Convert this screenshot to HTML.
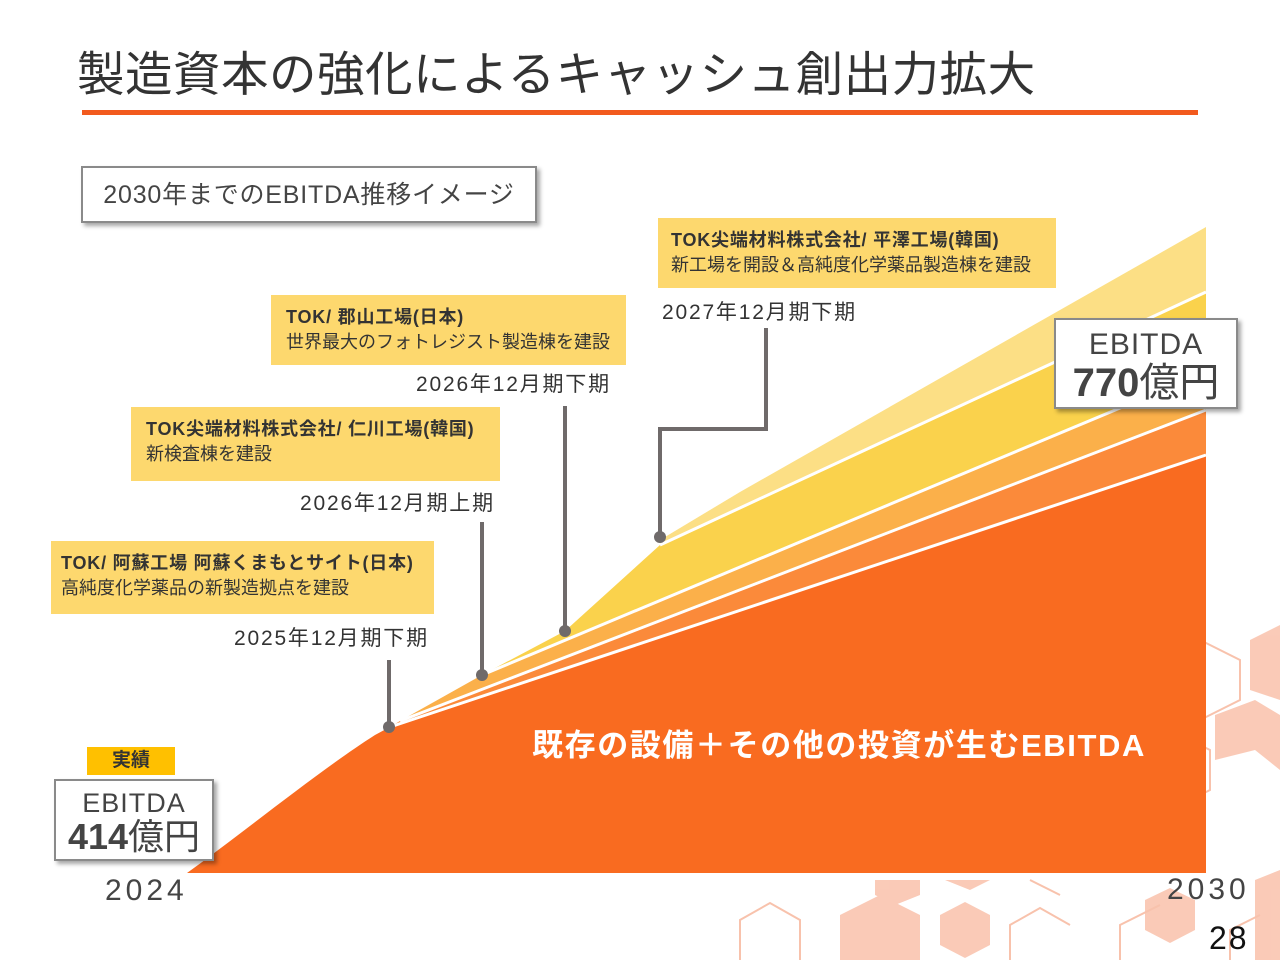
<!DOCTYPE html>
<html><head><meta charset="utf-8"><style>
body{margin:0;width:1280px;height:960px;background:#fff;position:relative;overflow:hidden;font-family:"Liberation Sans","Noto Sans CJK JP",sans-serif;color:#333}
.a{position:absolute;white-space:nowrap}
.yb{position:absolute;background:#FDD86E;box-sizing:border-box;padding:10px 0 0 15px;font-size:18px;line-height:25px;color:#333;white-space:nowrap}
.yb b{font-weight:bold;letter-spacing:0.8px}
.lab{position:absolute;font-size:21px;color:#333;white-space:nowrap;letter-spacing:1.8px}
.box{position:absolute;background:#fff;border:2px solid #8a8a8a;box-shadow:3px 3px 4px rgba(0,0,0,.35);box-sizing:border-box;text-align:center;color:#444}
</style></head><body>
<svg class="a" style="left:0;top:0" width="1280" height="960">
 <g fill="#F8B59A" opacity=".7">
  <polygon points="1250,640 1280,625 1280,700 1250,690"/>
  <polygon points="1215,715 1255,700 1280,715 1280,770 1255,750 1215,760"/>
  <polygon points="875,880 920,880 920,895 895,905 875,895"/>
  <polygon points="840,915 880,895 920,915 920,960 840,960"/>
  <polygon points="940,915 965,902 990,915 990,945 965,958 940,945"/>
  <polygon points="1145,900 1170,888 1195,900 1195,930 1170,943 1145,930"/>
  <polygon points="1255,880 1280,870 1280,960 1255,960"/>
  <polygon points="945,880 990,880 970,890"/>
 </g>
 <g fill="none" stroke="#F8C2AC" stroke-width="2">
  <polygon points="1160,660 1200,640 1240,660 1240,700 1200,720 1160,700"/>
  <polygon points="1130,750 1170,730 1210,750 1210,790 1170,810 1130,790"/>
  <polyline points="740,960 740,920 770,903 800,920 800,960"/>
  <polyline points="1010,960 1010,925 1040,908 1070,925"/>
  <polyline points="1120,960 1120,925 1160,905"/>
  <polyline points="1230,960 1230,930 1260,915"/>
  <line x1="1030" y1="880" x2="1060" y2="895"/>
 </g>
 <path d="M187,873 C240,835 320,770 375,735 L390,727 L1206,455 L1206,873 Z" fill="#F96B20"/>
 <polygon points="390,727 400,721 1206,410 1206,455" fill="#FB8A3A"/>
 <polygon points="400,721 482,675 1206,372 1206,410" fill="#FBB04A"/>
 <polygon points="482,675 565,631 660,545 1206,292 1206,372" fill="#FAD24C"/>
 <polygon points="660,545 660,540 740,492 1206,227 1206,292" fill="#FCDF85"/>
 <g stroke="#fff" stroke-width="3" fill="none">
  <line x1="390" y1="727" x2="1206" y2="455"/>
  <line x1="400" y1="721" x2="1206" y2="410"/>
  <line x1="482" y1="675" x2="1206" y2="372"/>
  <line x1="660" y1="545" x2="1206" y2="292"/>
 </g>
 <g stroke="#6F6A6A" stroke-width="4" fill="none">
  <line x1="389" y1="660" x2="389" y2="727"/>
  <line x1="482" y1="522" x2="482" y2="675"/>
  <line x1="565" y1="406" x2="565" y2="631"/>
  <polyline points="766,328 766,429 660,429 660,537"/>
 </g>
 <g fill="#6F6A6A"><circle cx="389" cy="727" r="6"/><circle cx="482" cy="675" r="6"/><circle cx="565" cy="631" r="6"/><circle cx="660" cy="537" r="6"/></g>
 <rect x="82" y="110" width="1116" height="5" fill="#F25A1E"/>
</svg>
<div class="a" style="left:77px;top:46px;font-size:47.5px;line-height:60px;color:#333;letter-spacing:0.5px">製造資本の強化によるキャッシュ創出力拡大</div>
<div class="box" style="left:81px;top:166px;width:456px;height:57px;font-size:25px;line-height:55px;color:#444;letter-spacing:0.8px">2030年までのEBITDA推移イメージ</div>
<div class="yb" style="left:658px;top:218px;width:398px;height:70px;padding-left:13px"><b>TOK尖端材料株式会社/ 平澤工場(韓国)</b><br>新工場を開設＆高純度化学薬品製造棟を建設</div>
<div class="yb" style="left:271px;top:295px;width:355px;height:70px"><b>TOK/ 郡山工場(日本)</b><br>世界最大のフォトレジスト製造棟を建設</div>
<div class="yb" style="left:131px;top:407px;width:369px;height:74px"><b>TOK尖端材料株式会社/ 仁川工場(韓国)</b><br>新検査棟を建設</div>
<div class="yb" style="left:51px;top:541px;width:383px;height:73px;padding-left:10px"><b>TOK/ 阿蘇工場 阿蘇くまもとサイト(日本)</b><br>高純度化学薬品の新製造拠点を建設</div>
<div class="lab" style="left:662px;top:296px">2027年12月期下期</div>
<div class="lab" style="left:416px;top:368px">2026年12月期下期</div>
<div class="lab" style="left:300px;top:487px">2026年12月期上期</div>
<div class="lab" style="left:234px;top:622px">2025年12月期下期</div>
<div class="a" style="left:532px;top:726px;font-size:31px;line-height:40px;color:#fff;font-weight:bold;letter-spacing:1.6px">既存の設備＋その他の投資が生むEBITDA</div>
<div class="a" style="left:87px;top:747px;width:88px;height:28px;background:#FFC000;text-align:center;font-size:19px;line-height:28px;color:#333;font-weight:bold">実績</div>
<div class="box" style="left:54px;top:779px;width:160px;height:82px"><div style="font-size:27px;line-height:30px;margin-top:7px;letter-spacing:1px">EBITDA</div><div style="font-size:36px;line-height:38px"><b>414</b>億円</div></div>
<div class="box" style="left:1054px;top:318px;width:184px;height:91px"><div style="font-size:30px;line-height:34px;margin-top:8px;letter-spacing:1px">EBITDA</div><div style="font-size:40px;line-height:42px"><b>770</b>億円</div></div>
<div class="a" style="left:105px;top:874px;font-size:30px;color:#444;letter-spacing:4px">2024</div>
<div class="a" style="left:1167px;top:873px;font-size:30px;color:#444;letter-spacing:4px">2030</div>
<div class="a" style="left:1209px;top:920px;font-size:32px;color:#111;letter-spacing:2px">28</div>
</body></html>
